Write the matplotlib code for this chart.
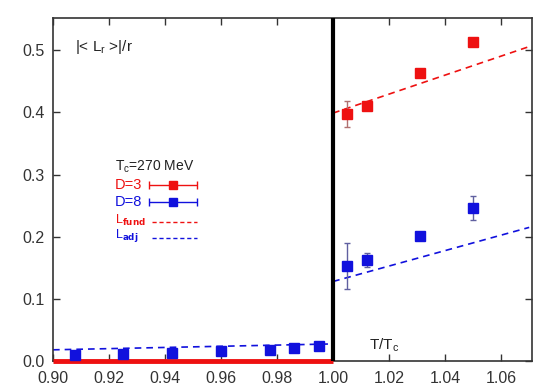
import matplotlib
matplotlib.use('Agg')
from matplotlib import pyplot as plt
import numpy as np

plt.rcParams['font.family'] = ['Liberation Sans', 'DejaVu Sans']

# D=3 (fundamental) above Tc
t_fund = [1.005, 1.012, 1.031, 1.050]
l_fund = [0.397, 0.411, 0.463, 0.513]
e_fund = [0.021, 0.006, 0.004, 0.006]

# D=8 (adjoint)
t_adj = [0.908, 0.925, 0.9425, 0.960, 0.9775, 0.986, 0.995, 1.005, 1.012, 1.031, 1.050]
l_adj = [0.010, 0.011, 0.013, 0.016, 0.018, 0.021, 0.0235, 0.153, 0.163, 0.201, 0.246]
e_adj = [0.002, 0.002, 0.002, 0.004, 0.003, 0.003, 0.002, 0.037, 0.011, 0.007, 0.019]

# dashed curves
fit_x_low = [0.90, 1.00]
fit_adj_low = [0.018, 0.0275]
fit_x_high = [1.00, 1.07]
fit_fund_high = [0.399, 0.506]
fit_adj_high = [0.128, 0.215]

red = '#ee1111'
blue = '#1111dd'

fig = plt.figure(figsize=(5.45, 3.87), dpi=100)
ax = fig.add_axes([53/545, 1 - 361/387, (532-53)/545, (361-18)/387])

ax.plot([0.90, 1.00], [0, 0], color=red, lw=3.5, solid_capstyle='butt', zorder=4, clip_on=False)
ax.axvline(1.00, color='black', lw=3, zorder=5)

ax.plot(fit_x_low, fit_adj_low, '--', color=blue, lw=1.2, dashes=(4, 3))
ax.plot(fit_x_high, fit_fund_high, '--', color=red, lw=1.2, dashes=(4, 3))
ax.plot(fit_x_high, fit_adj_high, '--', color=blue, lw=1.2, dashes=(4, 3))

ax.errorbar(t_fund, l_fund, yerr=e_fund, fmt='s', color=red, ms=6.5,
            ecolor='#b07070', elinewidth=1, capsize=2.5, zorder=6)
ax.errorbar(t_adj, l_adj, yerr=e_adj, fmt='s', color=blue, ms=6.5,
            ecolor='#6060a0', elinewidth=1, capsize=2.5, zorder=6)

ax.set_xlim(0.90, 1.071)
ax.set_ylim(0.0, 0.552)
ax.set_xticks(np.arange(0.90, 1.061, 0.02))
ax.set_xticklabels(['0.90', '0.92', '0.94', '0.96', '0.98', '1.00', '1.02', '1.04', '1.06'])
ax.set_yticks(np.arange(0.0, 0.51, 0.1))
ax.set_yticklabels(['0.0', '0.1', '0.2', '0.3', '0.4', '0.5'])
ax.tick_params(direction='in', top=True, right=True, length=5, width=1,
               labelsize=11.5, colors='#333333', labelcolor='#333333')
ax.tick_params(axis='x', pad=7)
ax.tick_params(axis='y', pad=6)
for s in ax.spines.values():
    s.set_linewidth(1.2)
    s.set_color('#333333')

ax.text(0.045, 0.915, r'|< L$_\mathregular{r}$ >|/r', transform=ax.transAxes,
        fontsize=11, color='#222222', va='center')
ax.text(0.66, 0.045, r'T/T$_\mathregular{c}$', transform=ax.transAxes,
        fontsize=11, color='#222222', va='center')

# legend drawn by hand
def fx(px):
    return (px - 53) / (532 - 53)

def fy(py):
    return (361 - py) / (361 - 18)

tr = ax.transAxes
ax.text(fx(115), fy(167), r'T$_\mathregular{c}$=270 MeV', transform=tr, fontsize=10, color='#222222', va='center')
ax.text(fx(115), fy(185), 'D=3', transform=tr, fontsize=10.5, color=red, va='center')
ax.text(fx(115), fy(202), 'D=8', transform=tr, fontsize=10.5, color=blue, va='center')
ax.text(fx(115), fy(220), r'L$_\mathbf{fund}$', transform=tr, fontsize=9, color=red, va='center')
ax.text(fx(115), fy(236), r'L$_\mathbf{adj}$', transform=tr, fontsize=9, color=blue, va='center')
ax.errorbar([fx(173)], [fy(185)], xerr=[fx(197) - fx(173)], fmt='s', color=red, ms=6,
            ecolor=red, elinewidth=1, capsize=3, transform=tr, clip_on=False)
ax.errorbar([fx(173)], [fy(202)], xerr=[fx(197) - fx(173)], fmt='s', color=blue, ms=6,
            ecolor=blue, elinewidth=1, capsize=3, transform=tr, clip_on=False)
ax.plot([fx(152), fx(197)], [fy(222), fy(222)], '--', color=red, lw=1, dashes=(3, 2), transform=tr)
ax.plot([fx(152), fx(197)], [fy(238), fy(238)], '--', color=blue, lw=1, dashes=(3, 2), transform=tr)

fig.savefig('out.png', dpi=100)
